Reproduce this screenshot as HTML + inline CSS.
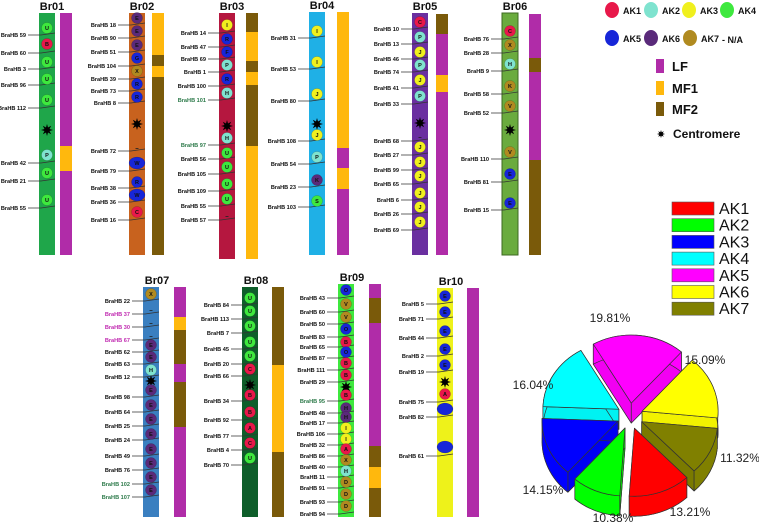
<!DOCTYPE html>
<html><head><meta charset="utf-8"><style>
html,body{margin:0;padding:0;background:#fff}
svg{display:block}
text{font-family:"Liberation Sans",sans-serif}
</style></head><body>
<svg id="fig" width="759" height="528" viewBox="0 0 759 528" xmlns="http://www.w3.org/2000/svg"></svg>
<script>
// ---- data ----
const akColors = ["#e8184a","#7fe3cf","#f0f01e","#3ee83e","#1726d8","#5a2a7a","#b08a20"];
const segColors = {LF:"#b02ca8",MF1:"#ffb80d",MF2:"#7a5a0a"};
const chromNames = ["Br01","Br02","Br03","Br04","Br05","Br06","Br07","Br08","Br09","Br10"];
const chromX = [39,129,219,309,412,502,143,242,338,437];
const sideX = [60,152,246,337,436,529,174,272,369,467];
const chromTop = [13,13,13,12,13,13,287,287,284,288];
const chromBottom = [255,255,259,255,255,255,517,517,517,517];
const chromColor = ["#1fa64a","#c8621e","#b5173f","#1fb0e6","#6a2fa0","#6aab3e","#3a7fc0","#0e5e2a","#3ee83e","#eef21a"];
const centromereY = [130,124,126,124,123,130,381,385,387,382];
const sideSegs = [
 [[13,146,"LF"],[146,171,"MF1"],[171,255,"LF"]],
 [[13,55,"MF1"],[55,66,"MF2"],[66,77,"MF1"],[77,255,"MF2"]],
 [[13,32,"MF2"],[32,61,"MF1"],[61,72,"MF2"],[72,85,"MF1"],[85,146,"MF2"],[146,259,"MF1"]],
 [[12,148,"MF1"],[148,168,"LF"],[168,189,"MF1"],[189,255,"LF"]],
 [[14,34,"MF2"],[34,75,"LF"],[75,92,"MF1"],[92,255,"LF"]],
 [[14,58,"LF"],[58,72,"MF2"],[72,160,"LF"],[160,255,"MF2"]],
 [[287,317,"LF"],[317,330,"MF1"],[330,364,"MF2"],[364,382,"LF"],[382,427,"MF2"],[427,517,"LF"]],
 [[287,365,"MF2"],[365,452,"MF1"],[452,517,"MF2"]],
 [[284,298,"LF"],[298,323,"MF2"],[323,446,"LF"],[446,467,"MF2"],[467,488,"MF1"],[488,517,"MF2"]],
 [[288,517,"LF"]]
];
const markers = [
 [[3,28,"U"],[0,44,"B"],[3,62,"U"],[3,79,"U"],[3,100,"U"],[1,155,"P"],[3,173,"U"],[3,200,"U"]],
 [[5,18,"E"],[5,31,"E"],[5,45,"E"],[4,58,"G"],[6,71,"X"],[4,84,"R"],[4,97,"R"],[-1,148,""],[4,163,"W",1],[4,182,"R"],[4,195,"W",1],[0,212,"C"]],
 [[2,25,"I"],[4,39,"R"],[4,52,"F"],[1,65,"P"],[4,79,"R"],[1,93,"H"],[1,138,"H"],[3,153,"U"],[3,167,"U"],[3,184,"U"],[3,199,"U"],[-1,216,""]],
 [[2,31,"I"],[2,62,"I"],[2,94,"J"],[2,135,"J"],[1,157,"P"],[5,180,"K"],[3,201,"S"]],
 [[0,22,"C"],[1,37,"P"],[2,52,"J"],[1,65,"P"],[2,80,"J"],[1,96,"P"],[-1,137,""],[2,147,"J"],[2,162,"J"],[2,176,"J"],[2,193,"J"],[2,207,"J"],[2,222,"J"]],
 [[0,31,"C"],[6,45,"X"],[1,64,"H"],[6,86,"K"],[6,106,"V"],[6,152,"V"],[4,174,"E"],[4,203,"E"]],
 [[6,294,"X"],[-1,310,""],[-1,323,""],[-1,336,""],[5,345,"E"],[5,357,"E"],[1,370,"H"],[5,390,"E"],[5,405,"E"],[5,419,"E"],[5,434,"E"],[5,449,"E"],[5,463,"E"],[5,477,"E"],[5,490,"E"]],
 [[3,298,"U"],[3,311,"U"],[3,326,"U"],[3,342,"U"],[3,356,"U"],[0,369,"C"],[0,395,"B"],[0,412,"B"],[0,428,"A"],[0,443,"C"],[3,458,"U"]],
 [[4,290,"O"],[6,304,"V"],[6,317,"V"],[4,329,"O"],[0,342,"B"],[4,352,"O"],[0,363,"B"],[0,375,"B"],[0,395,"B"],[5,408,"H"],[5,417,"H"],[2,428,"I"],[2,439,"I"],[0,449,"A"],[6,460,"X"],[1,471,"H"],[6,482,"D"],[6,494,"D"],[6,506,"D"]],
 [[4,296,"E"],[4,312,"E"],[4,331,"E"],[4,349,"E"],[4,365,"E"],[0,394,"A"],[4,409,"",1],[4,447,"",1]]
];
const geneLabels = [
 [["59",35],["60",53],["3",69],["96",85],["112",108],["42",163],["21",181],["55",208]],
 [["18",25],["90",38],["51",52],["104",66],["39",79],["73",91],["8",103],["72",151],["79",171],["38",188],["36",202],["16",220]],
 [["14",33],["47",47],["69",59],["1",72],["100",86],["101",100,1],["97",145,1],["56",159],["105",174],["109",191],["55",206],["57",220]],
 [["31",38],["53",69],["80",101],["108",141],["54",164],["23",187],["103",207]],
 [["10",29],["13",44],["46",59],["74",72],["41",88],["33",104],["68",141],["27",155],["99",170],["65",184],["6",200],["26",214],["69",230]],
 [["76",39],["28",53],["9",71],["58",94],["52",113],["110",159],["81",182],["15",210]],
 [["22",301],["37",314,2],["30",327,2],["67",340,2],["62",352],["63",364],["12",377],["98",397],["64",412],["25",426],["24",440],["49",456],["76",470],["102",484,1],["107",497,1]],
 [["84",305],["113",319],["7",333],["45",349],["20",364],["66",376],["34",401],["92",420],["77",436],["4",450],["70",465]],
 [["43",298],["60",312],["50",324],["83",337],["65",347],["87",358],["111",370],["29",382],["95",401,1],["48",413],["17",423],["106",434],["32",445],["86",456],["40",467],["11",477],["91",488],["93",502],["94",514]],
 [["5",304],["71",319],["44",338],["2",356],["19",372],["75",402],["82",417],["61",456]]
];
const pieLabels = ["AK5","AK6","AK7","AK1","AK2","AK3","AK4"];
const pieValues = [19.81,15.09,11.32,13.21,10.38,14.15,16.04];
const pieColors = ["#ff00ff","#ffff00","#808000","#ff0000","#00ff00","#0000ff","#00ffff"];
const legendNames = ["AK1","AK2","AK3","AK4","AK5","AK6","AK7"];
const legendColors = ["#ff0000","#00ff00","#0000ff","#00ffff","#ff00ff","#ffff00","#808000"];

// ---- drawing ----
const svg = document.getElementById('fig');
const NS = "http://www.w3.org/2000/svg";
function mk(tag, attrs, parent){const e=document.createElementNS(NS,tag);for(const k in attrs)e.setAttribute(k,attrs[k]);(parent||svg).appendChild(e);return e;}
const lblColors = ["#111","#2d7a4a","#c02ab0"];
function star(g,cx,cy,r){let p="";for(let i=0;i<16;i++){const rr=i%2?r*0.45:r;const a=i*Math.PI/8;p+=(i?"L":"M")+(cx+rr*Math.cos(a)).toFixed(1)+","+(cy+rr*Math.sin(a)).toFixed(1);}return mk('path',{d:p+"Z",fill:"#000"},g);}

chromNames.forEach((nm,i)=>{
  const g = mk('g',{});
  
  
  const x=chromX[i], w=16, top=chromTop[i], bot=chromBottom[i];
  const t = mk('text',{x:x+w/2+(i<6?5:6),y:top-3,'text-anchor':'middle','font-size':11,'font-weight':'bold',fill:'#111'},g);
  t.textContent=nm;
  
  
  const bar = mk('rect',{x:x,y:top,width:w,height:bot-top,fill:chromColor[i],stroke:i==5?'#3d6a22':'none','stroke-width':1},g);
  
  
  const sx = sideX[i];
  sideSegs[i].forEach(s=>{
    const r = mk('rect',{x:sx,y:s[0],width:12,height:s[1]-s[0],fill:segColors[s[2]]},g);
    
    
  });
  const cx = x+w/2;
  geneLabels[i].forEach(l=>{
    const tx = x-13;
    const ln = mk('polyline',{points:(tx+2)+","+l[1]+" "+(x+2)+","+l[1]+" "+(x+w)+","+(l[1]-2),fill:'none',stroke:'#333','stroke-width':0.7},g);
    
    
    const tt = mk('text',{x:tx,y:l[1]+2,'text-anchor':'end','font-size':5.6,'font-weight':'bold',fill:lblColors[l[2]||0]},g);
    tt.textContent="BraHB "+l[0];
    
    
  });
  star(g,cx,centromereY[i],6);
  markers[i].forEach(m=>{
    if(m[0]<0){const d=mk('rect',{x:cx-1.5,y:m[1],width:3,height:0.8,fill:'#222'},g);return;}
    const c = mk('ellipse',{cx:cx,cy:m[1],rx:m[3]?8:5.5,ry:m[3]?6:5.5,fill:akColors[m[0]],stroke:'rgba(0,0,0,0.25)','stroke-width':0.5},g);
    
    
    if(m[2]){const lt=mk('text',{x:cx,y:m[1]+2,'text-anchor':'middle','font-size':5.5,'font-weight':'bold',fill:'#111'},g);lt.textContent=m[2];}
  });
});

// top legend
const lg = mk('g',{});


const lgX=[612,651,689,727,612,651,690], lgY=[10,10,10,10,38,38,38];
for(let k=0;k<7;k++){
  mk('ellipse',{cx:lgX[k],cy:lgY[k],rx:7,ry:8,fill:akColors[k]},lg);
  const t=mk('text',{x:lgX[k]+11,y:lgY[k]+4,'font-size':9,'font-weight':'bold',fill:'#111'},lg);t.textContent="AK"+(k+1);
}
const na=mk('text',{x:722,y:43,'font-size':9,'font-weight':'bold',fill:'#111'},lg);na.textContent="-  N/A";
const segL=[["LF",59],["MF1",81],["MF2",102]];
segL.forEach(s=>{
  const r=mk('rect',{x:656,y:s[1],width:8,height:14,fill:segColors[s[0]]},lg);
  
  
  const t=mk('text',{x:672,y:s[1]+12,'font-size':13,'font-weight':'bold',fill:'#111'},lg);t.textContent=s[0];
});
star(lg,661,134,4);
const ct=mk('text',{x:673,y:138,'font-size':12,'font-weight':'bold',fill:'#111'},lg);ct.textContent="Centromere";

// pie legend
const pl = mk('g',{});


legendNames.forEach((n,k)=>{
  const y=202+k*16.7;
  const r=mk('rect',{x:672,y:y,width:42,height:13,fill:legendColors[k],stroke:'#555','stroke-width':0.6},pl);
  
  
  const t=mk('text',{x:719,y:y+12,'font-size':16,fill:'#111'},pl);t.textContent=n;
});

// 3D exploded pie
const pg = mk('g',{});


const PCX=630, PCY=416, RX=76, RY=68, DEPTH=20, EXP=13, START=-120;
const total = pieValues.reduce((a,b)=>a+b,0);
let ang=START;
const slices=[];
pieValues.forEach((v,k)=>{const a0=ang, a1=ang+v/total*360; ang=a1; slices.push({k,a0,a1,mid:(a0+a1)/2});});
function pt(cx,cy,a){const r=a*Math.PI/180;return [cx+RX*Math.cos(r),cy+RY*Math.sin(r)];}
function shade(hex,f){const n=parseInt(hex.slice(1),16);const r=(n>>16)&255,g=(n>>8)&255,b=n&255;return `rgb(${Math.round(r*f)},${Math.round(g*f)},${Math.round(b*f)})`;}
slices.slice().sort((a,b)=>Math.sin(a.mid*Math.PI/180)-Math.sin(b.mid*Math.PI/180)).forEach(s=>{
  const m=s.mid*Math.PI/180, cx=PCX+EXP*Math.cos(m), cy=PCY+EXP*Math.sin(m);
  const col=pieColors[s.k];
  const sg=mk('g',{},pg);
  
  
  const st={stroke:'#333','stroke-width':0.7,'stroke-linejoin':'round'};
  const p0=pt(cx,cy,s.a0),p1=pt(cx,cy,s.a1);
  const large=(s.a1-s.a0)>180?1:0;
  // bottom face (full shape shifted)
  mk('path',Object.assign({d:`M${cx},${cy+DEPTH}L${p0[0]},${p0[1]+DEPTH}A${RX},${RY} 0 ${large} 1 ${p1[0]},${p1[1]+DEPTH}Z`,fill:shade(col,0.9)},st),sg);
  [s.a0,s.a1].forEach(a=>{const p=pt(cx,cy,a);mk('path',Object.assign({d:`M${cx},${cy}L${p[0]},${p[1]}L${p[0]},${p[1]+DEPTH}L${cx},${cy+DEPTH}Z`,fill:shade(col,0.95)},st),sg);});
  mk('path',Object.assign({d:`M${p0[0]},${p0[1]}A${RX},${RY} 0 ${large} 1 ${p1[0]},${p1[1]}L${p1[0]},${p1[1]+DEPTH}A${RX},${RY} 0 ${large} 0 ${p0[0]},${p0[1]+DEPTH}Z`,fill:col},st),sg);
  mk('path',Object.assign({d:`M${cx},${cy}L${p0[0]},${p0[1]}A${RX},${RY} 0 ${large} 1 ${p1[0]},${p1[1]}Z`,fill:col},st),sg);
});
const pctX=[610,705,740,690,613,543,533], pctY=[322,364,462,516,522,494,389];
slices.forEach((s,k)=>{
  const t=mk('text',{x:pctX[k],y:pctY[k],'text-anchor':'middle','font-size':12,fill:'#222'},pg);
  t.textContent=pieValues[k].toFixed(2)+"%";
  
  
});
</script>
</body></html>
